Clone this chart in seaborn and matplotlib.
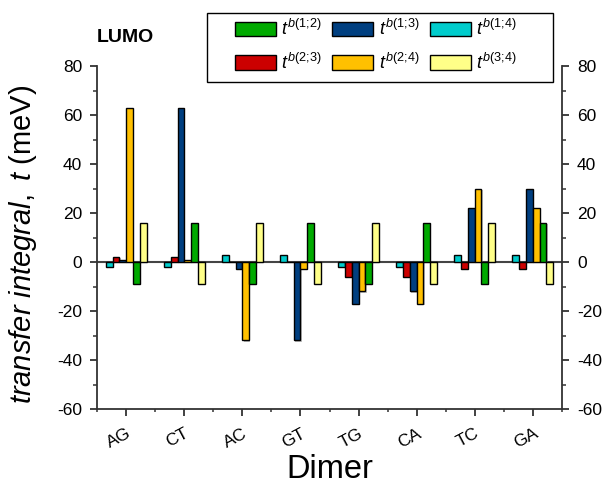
import matplotlib
matplotlib.use("Agg")
import matplotlib.pyplot as plt
import matplotlib.patheffects as pe
from matplotlib.patches import Rectangle
from matplotlib.ticker import MultipleLocator, FixedLocator
from matplotlib.transforms import ScaledTranslation
import seaborn as sns
import pandas as pd

# ---- data ----
dimers = ['AG', 'CT', 'AC', 'GT', 'TG', 'CA', 'TC', 'GA']
t14 = [-2, -2, 3, 3, -2, -2, 3, 3]
t23 = [2, 2, 0, 0, -6, -6, -3, -3]
t13 = [1, 63, -3, -32, -17, -12, 22, 30]
t24 = [63, 1, -32, -3, -12, -17, 30, 22]
t12 = [-9, 16, -9, 16, -9, 16, -9, 16]
t34 = [16, -9, 16, -9, 16, -9, 16, -9]

pairs = ['1;4', '2;3', '1;3', '2;4', '1;2', '3;4']
series = [t14, t23, t13, t24, t12, t34]
colors = {'1;2': '#00AA00', '1;3': '#003F80', '1;4': '#00CCCC',
          '2;3': '#CC0000', '2;4': '#FFC000', '3;4': '#FFFF88'}
legend_order = ['1;2', '2;3', '1;3', '2;4', '1;4', '3;4']

rows = []
for p, vals in zip(pairs, series):
    for d, v in zip(dimers, vals):
        rows.append({'Dimer': d, 'pair': p, 't': v})
df = pd.DataFrame(rows)

sns.set_theme(style='white')
plt.rcParams['font.family'] = ['Liberation Sans', 'DejaVu Sans']
plt.rcParams['mathtext.fontset'] = 'custom'
plt.rcParams['mathtext.rm'] = 'Liberation Sans'
plt.rcParams['mathtext.it'] = 'Liberation Sans:italic'
plt.rcParams['mathtext.bf'] = 'Liberation Sans:bold'
plt.rcParams['axes.unicode_minus'] = False
plt.rcParams['text.color'] = 'black'
plt.rcParams['axes.labelcolor'] = 'black'

W, H = 608, 484
fig = plt.figure(figsize=(W / 100, H / 100), dpi=100)
L, R, T, B = 97.3, 561.7, 66, 409
ax = fig.add_axes([L / W, 1 - B / H, (R - L) / W, (B - T) / H])

ax.axhline(0, color='#444444', lw=1.5, zorder=0.5)
sns.barplot(data=df, x='Dimer', y='t', hue='pair', order=dimers,
            hue_order=pairs, palette=colors, width=0.71, gap=0,
            edgecolor='black', linewidth=1.0, saturation=1, ax=ax,
            errorbar=None)
for p in ax.patches:
    p.set_path_effects([pe.SimplePatchShadow(offset=(0.8, -0.8), shadow_rgbFace='gray', alpha=0.5), pe.Normal()])

ax.set_xlim(-0.5, 7.5)
ax.set_ylim(-60, 80)
ax.yaxis.set_major_locator(MultipleLocator(20))
ax.yaxis.set_minor_locator(MultipleLocator(10))
ax.xaxis.set_minor_locator(FixedLocator([i + 0.5 for i in range(-1, 8)]))

for s in ['left', 'right', 'bottom']:
    ax.spines[s].set_visible(True)
    ax.spines[s].set_color('#333333')
    ax.spines[s].set_linewidth(1.3)
ax.spines['top'].set_visible(False)

ax.tick_params(axis='y', which='both', direction='out', left=True, right=True,
               labelleft=True, labelright=True, color='#333333', labelsize=12.5,
               labelcolor='black', pad=6)
ax.tick_params(axis='y', which='major', length=5, width=1.3)
ax.tick_params(axis='y', which='minor', length=3, width=1.1)
ax.tick_params(axis='x', which='major', direction='out', bottom=True, length=5,
               width=1.3, color='#333333', labelsize=12.5, labelcolor='black', pad=7)
ax.tick_params(axis='x', which='minor', direction='out', bottom=True, length=2,
               width=1.1, color='#333333')
for lab in ax.get_xticklabels():
    lab.set_rotation(28)
    lab.set_ha('center')
    lab.set_transform(lab.get_transform() + ScaledTranslation(-5 / 72, 0, fig.dpi_scale_trans))

ax.set_xlabel('Dimer', fontsize=23.5)
ax.xaxis.set_label_coords(0.5, -0.13)
ax.set_ylabel(r'$\mathit{transfer\ integral,\ t}$ (meV)', fontsize=21)
ax.yaxis.set_label_coords(-0.125, 0.481)

# legend
handles, labels = ax.get_legend_handles_labels()
hmap = dict(zip(labels, handles))
if ax.legend_ is not None:
    ax.legend_.remove()
fig.patches.append(Rectangle((207 / W, 1 - 82 / H), (553 - 207) / W, (82 - 13) / H,
                             transform=fig.transFigure, fill=False,
                             edgecolor='black', lw=1.0))
leg = fig.legend([hmap[p] for p in legend_order],
                 [r'$t^{\mathit{b(%s;\!%s)}}$' % tuple(p.split(';')) for p in legend_order],
                 loc='upper left', bbox_to_anchor=(235 / W, 1 - 19 / H),
                 ncol=3, frameon=False, fontsize=13, borderaxespad=0, borderpad=0,
                 handlelength=2.25, handleheight=0.85, handletextpad=0.3,
                 columnspacing=0.6, labelspacing=0.75)

fig.text(97 / W, 1 - 38 / H, 'LUMO', fontsize=14, fontweight='bold',
         ha='left', va='center')

fig.savefig('out.png', dpi=100)
